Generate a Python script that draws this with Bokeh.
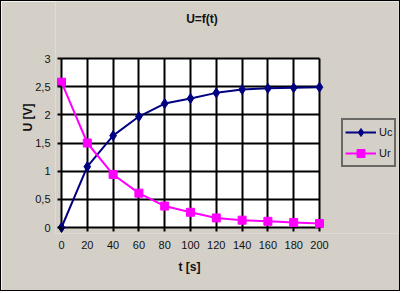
from bokeh.plotting import figure
from bokeh.embed import file_html
from bokeh.resources import INLINE
from bokeh.models import (FixedTicker, CustomJSTickFormatter, BoxAnnotation,
                          Legend, LegendItem, Range1d, Title, Label)

# ---- data ----
t = [0, 20, 40, 60, 80, 100, 120, 140, 160, 180, 200]
uc = [0, 1.08, 1.63, 1.97, 2.20, 2.29, 2.39, 2.45, 2.47, 2.48, 2.49]
ur = [2.58, 1.50, 0.94, 0.61, 0.38, 0.27, 0.17, 0.13, 0.11, 0.09, 0.07]
x_ticks = [0, 20, 40, 60, 80, 100, 120, 140, 160, 180, 200]
y_ticks = [0, 0.5, 1, 1.5, 2, 2.5, 3]
title_text = "U=f(t)"
x_label = "t [s]"
y_label = "U [V]"
names = ["Uc", "Ur"]

BG = "#D4D0C8"
NAVY = "#000080"
MAG = "#FF00FF"
FONT = "Liberation Sans"

# pixel scale of the plot area (258 x 169 px)
px_x = (x_ticks[-1] - x_ticks[0]) / 258.0
px_y = (y_ticks[-1] - y_ticks[0]) / 169.0
pad = 6          # px margin so edge markers are not clipped
right_ext = 79   # px: frame extends to the right to hold the legend
top_ext = 57     # px: frame extends upward to hold the title

p = figure(width=400, height=291, output_backend="svg", toolbar_location=None,
           title_location=None,
           x_range=Range1d(x_ticks[0] - pad * px_x, x_ticks[-1] + right_ext * px_x),
           y_range=Range1d(y_ticks[0] - pad * px_y, y_ticks[-1] + top_ext * px_y),
           min_border_left=54, min_border_right=3, min_border_top=0,
           min_border_bottom=59,
           background_fill_color=BG, border_fill_color=BG,
           outline_line_color=None)
p.styles = {"border": "1px solid black"}

# white plot area
p.add_layout(BoxAnnotation(left=x_ticks[0], right=x_ticks[-1],
                           bottom=y_ticks[0], top=y_ticks[-1],
                           fill_color="white", fill_alpha=1.0,
                           line_color=None, level="image"))

# title
p.add_layout(Label(x=146.5, y=215, x_units="screen", y_units="screen",
                   text=title_text, text_align="center", text_baseline="middle",
                   text_font=FONT, text_font_size="12px", text_font_style="bold",
                   text_color="#111111"))

# axes
fmt = CustomJSTickFormatter(code="return tick.toString().replace('.', ',');")
for ax, ticks in ((p.xaxis[0], x_ticks), (p.yaxis[0], y_ticks)):
    ax.ticker = FixedTicker(ticks=ticks)
    ax.formatter = fmt
    ax.axis_line_color = None
    ax.major_tick_line_color = "black"
    ax.major_tick_line_width = 2
    ax.major_tick_in = pad
    ax.major_tick_out = -2
    ax.minor_tick_line_color = None
    ax.major_label_text_font = FONT
    ax.major_label_text_font_size = "11px"
    ax.major_label_text_color = "#111111"
    ax.axis_label_text_font = FONT
    ax.axis_label_text_font_size = "12px"
    ax.axis_label_text_font_style = "bold"
    ax.axis_label_text_color = "#111111"
p.yaxis[0].axis_label = y_label
p.xaxis[0].major_label_standoff = 7
p.yaxis[0].major_label_standoff = 5
p.yaxis[0].axis_label_standoff = -3

xt = Title(text=x_label, align="left", offset=123, standoff=13,
           text_font=FONT, text_font_size="12px", text_font_style="bold",
           text_color="#111111")
p.add_layout(xt, "below")

# grid
p.xgrid.ticker = FixedTicker(ticks=x_ticks)
p.ygrid.ticker = FixedTicker(ticks=y_ticks)
for g in (p.xgrid[0], p.ygrid[0]):
    g.grid_line_color = "black"
    g.grid_line_width = 2
    g.grid_line_alpha = 1.0
p.ygrid[0].bounds = (y_ticks[0], y_ticks[-1])
p.xgrid[0].bounds = (x_ticks[0], x_ticks[-1])
p.xgrid[0].cross_bounds = (y_ticks[0], y_ticks[-1])
p.ygrid[0].cross_bounds = (x_ticks[0], x_ticks[-1])

# series
l1 = p.line(t, uc, line_color=NAVY, line_width=2)
s1 = p.scatter(t, uc, marker="diamond", size=10, fill_color=NAVY, line_color=NAVY)
l2 = p.line(t, ur, line_color=MAG, line_width=2)
s2 = p.scatter(t, ur, marker="square", size=8, fill_color=MAG, line_color=MAG)

legend = Legend(items=[LegendItem(label=names[0], renderers=[l1, s1]),
                       LegendItem(label=names[1], renderers=[l2, s2])],
                location=(286, 66), orientation="vertical",
                glyph_width=31, glyph_height=20, label_height=20, label_width=13,
                label_standoff=3, spacing=1, padding=2, margin=0,
                border_line_color="black", border_line_width=2,
                background_fill_color=BG, background_fill_alpha=1.0,
                label_text_font=FONT, label_text_font_size="11px",
                label_text_color="#111111")
p.add_layout(legend, "center")

open("out.html", "w").write(file_html(p, INLINE))
